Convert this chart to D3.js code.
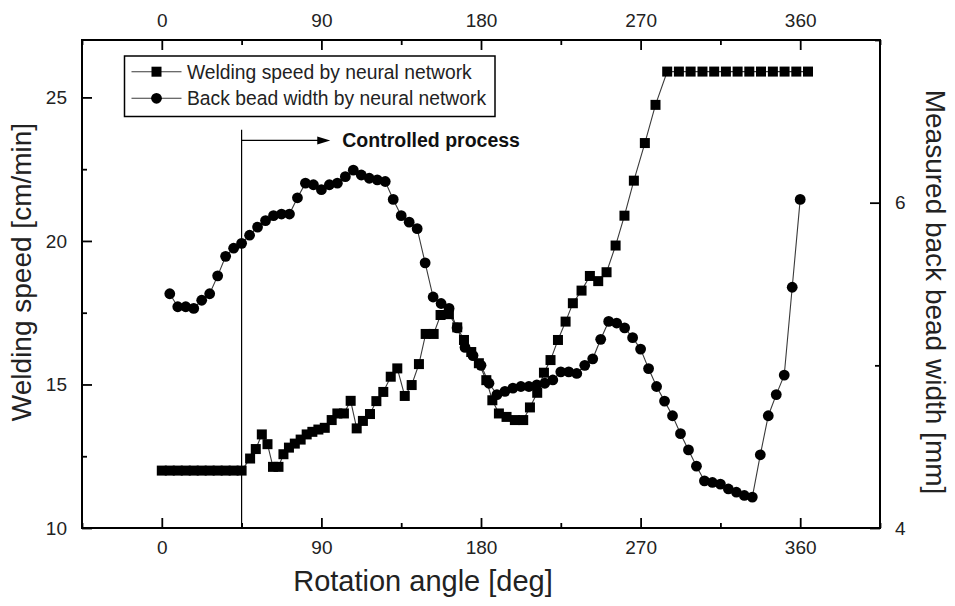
<!DOCTYPE html>
<html>
<head>
<meta charset="utf-8">
<script src="https://cdn.jsdelivr.net/npm/d3@7"></script>
<style>
  html, body { margin: 0; padding: 0; background: #fff; }
  svg { display: block; font-family: "Liberation Sans", Arial, sans-serif; }
</style>
</head>
<body>
<svg id="chart" width="955" height="606"></svg>
<script>
// Welding speed predicted by the neural network (left axis, cm/min)
const speedAngle = [0, 4.5, 9, 13.5, 18, 22.5, 27, 31.5, 36, 40.5, 45,
  49.8, 53.0, 56.4, 59.6, 62.7, 65.8, 68.6, 71.7, 75.0, 78.3, 81.7, 84.9, 88.3,
  91.9, 95.8, 99.0, 102.7, 106.5, 109.9, 113.4, 117.4, 121.0, 124.9, 129.1, 132.8,
  137.0, 140.9, 145.0, 148.8, 153.3, 157.2, 161.9, 166.6, 170.4, 174.5, 178.8,
  183.0, 186.4, 190.1, 194.4, 199.1, 203.8, 207.6, 211.7, 215.5, 219.2, 223.4,
  227.7, 231.8, 236.7, 241.4, 246.1, 250.8, 255.9, 260.9, 266.2, 272.4, 278.4,
  285, 291.6, 298.2, 304.9, 311.5, 318.1, 324.7, 331.3, 337.9, 344.6, 351.2, 357.8, 364.4];
const speedValue = [12, 12, 12, 12, 12, 12, 12, 12, 12, 12, 12,
  12.42, 12.75, 13.26, 12.92, 12.13, 12.13, 12.57, 12.80, 12.94, 13.08, 13.26, 13.35, 13.43,
  13.49, 13.76, 13.99, 13.99, 14.43, 13.47, 13.73, 13.97, 14.42, 14.74, 15.27, 15.56,
  14.60, 14.98, 15.71, 16.76, 16.76, 17.42, 17.45, 16.99, 16.55, 16.13, 15.74,
  15.15, 14.45, 13.99, 13.87, 13.76, 13.76, 14.20, 14.71, 15.41, 15.85, 16.55,
  17.19, 17.83, 18.27, 18.78, 18.60, 18.91, 19.84, 20.88, 22.10, 23.41, 24.74,
  25.9, 25.9, 25.9, 25.9, 25.9, 25.9, 25.9, 25.9, 25.9, 25.9, 25.9, 25.9, 25.9];

// Back bead width by the neural network (right axis, mm)
const widthAngle = [4.5, 9, 13.5, 18, 22.5, 27, 31.5, 36, 40.5, 45,
  49.5, 54, 58.5, 63, 67.5, 72, 76.5, 81, 85.5, 90,
  94.5, 99, 103.5, 108, 112.5, 117, 121.5, 126, 130.5, 135,
  139.5, 144, 148.5, 153, 157.5, 162, 166.5, 171, 175.5, 180,
  184.5, 189, 193.5, 198, 202.5, 207, 211.5, 216, 220.5, 225,
  229.5, 234, 238.5, 243, 247.5, 252, 256.5, 261, 265.5, 270,
  274.5, 279, 283.5, 288, 292.5, 297, 301.5, 306, 310.5, 315,
  319.5, 324, 328.5, 333, 337.5, 342, 346.5, 351, 355.5, 360];
const widthValue = [5.44, 5.36, 5.36, 5.35, 5.40, 5.44, 5.55, 5.67, 5.72, 5.75,
  5.80, 5.85, 5.89, 5.92, 5.93, 5.93, 6.03, 6.12, 6.11, 6.08,
  6.11, 6.12, 6.16, 6.20, 6.17, 6.15, 6.14, 6.13, 6.02, 5.92,
  5.88, 5.84, 5.63, 5.42, 5.38, 5.35, 5.23, 5.11, 5.06, 5.00,
  4.89, 4.82, 4.84, 4.86, 4.87, 4.87, 4.88, 4.89, 4.91, 4.96,
  4.96, 4.95, 5.00, 5.04, 5.16, 5.27, 5.26, 5.23, 5.17, 5.10,
  4.98, 4.87, 4.78, 4.69, 4.58, 4.48, 4.38, 4.29, 4.28, 4.27,
  4.24, 4.22, 4.20, 4.19, 4.45, 4.69, 4.82, 4.94, 5.48, 6.02];

const angleTicks = [0, 90, 180, 270, 360];
const angleMinor = [-45, 45, 135, 225, 315, 405];
const speedTicks = [10, 15, 20, 25];
const speedMinor = [12.5, 17.5, 22.5];
const widthTicks = [4, 6];
const widthMinor = [5, 7];

const legendLabels = ["Welding speed by neural network", "Back bead width by neural network"];
const annotationText = "Controlled process";
const controlStart = 45;   // deg, start of the controlled process
const controlArrowEnd = 95;

const M = { left: 82, right: 880, top: 40, bottom: 528 };

const svg = d3.select("#chart");
const x = d3.scaleLinear().domain([-45, 405]).range([M.left, M.right]);
const yL = d3.scaleLinear().domain([10, 27]).range([M.bottom, M.top]);
const yR = d3.scaleLinear().domain([4, 7]).range([M.bottom, M.top]);

const tickFont = 19;
const lineColor = "#3a3a3a";

// --- axes (ticks point inward) ---
function styleAxis(g) {
  g.select(".domain").remove();
  g.selectAll(".tick line").attr("stroke", "#000").attr("stroke-width", 1.8);
  g.selectAll(".tick text").attr("font-size", tickFont).attr("fill", "#222")
    .attr("font-family", '"Liberation Sans", Arial, sans-serif');
}

svg.append("g").attr("transform", `translate(0,${M.bottom})`)
  .call(d3.axisBottom(x).tickValues(angleTicks).tickSize(-10).tickPadding(13).tickFormat(d3.format("d")))
  .call(styleAxis);
svg.append("g").attr("transform", `translate(0,${M.bottom})`)
  .call(d3.axisBottom(x).tickValues(angleMinor).tickSize(-5).tickFormat(""))
  .call(styleAxis);
svg.append("g").attr("transform", `translate(0,${M.top})`)
  .call(d3.axisTop(x).tickValues(angleTicks).tickSize(-10).tickPadding(13).tickFormat(d3.format("d")))
  .call(styleAxis);
svg.append("g").attr("transform", `translate(0,${M.top})`)
  .call(d3.axisTop(x).tickValues(angleMinor).tickSize(-5).tickFormat(""))
  .call(styleAxis);
svg.append("g").attr("transform", `translate(${M.left},0)`)
  .call(d3.axisLeft(yL).tickValues(speedTicks).tickSize(-10).tickPadding(15).tickFormat(d3.format("d")))
  .call(styleAxis);
svg.append("g").attr("transform", `translate(${M.left},0)`)
  .call(d3.axisLeft(yL).tickValues(speedMinor).tickSize(-5).tickFormat(""))
  .call(styleAxis);
svg.append("g").attr("transform", `translate(${M.right},0)`)
  .call(d3.axisRight(yR).tickValues(widthTicks).tickSize(-10).tickPadding(15).tickFormat(d3.format("d")))
  .call(styleAxis);
svg.append("g").attr("transform", `translate(${M.right},0)`)
  .call(d3.axisRight(yR).tickValues(widthMinor).tickSize(-5).tickFormat(""))
  .call(styleAxis);

// frame
svg.append("rect")
  .attr("x", M.left).attr("y", M.top)
  .attr("width", M.right - M.left).attr("height", M.bottom - M.top)
  .attr("fill", "none").attr("stroke", "#000").attr("stroke-width", 2);

// axis titles
svg.append("text").attr("x", 423).attr("y", 591)
  .attr("text-anchor", "middle").attr("font-size", 29).attr("fill", "#222")
  .text("Rotation angle [deg]");
svg.append("text").attr("transform", `translate(31,272) rotate(-90)`)
  .attr("text-anchor", "middle").attr("font-size", 28).attr("fill", "#222")
  .text("Welding speed [cm/min]");
svg.append("text").attr("transform", `translate(926,292) rotate(90)`)
  .attr("text-anchor", "middle").attr("font-size", 28).attr("fill", "#222")
  .text("Measured back bead width [mm]");

// controlled process marker
svg.append("line")
  .attr("x1", x(controlStart)).attr("x2", x(controlStart))
  .attr("y1", yL(10)).attr("y2", yL(23.87))
  .attr("stroke", "#000").attr("stroke-width", 1.2);
const arrowY = yL(23.5);
svg.append("line")
  .attr("x1", x(controlStart)).attr("x2", x(controlArrowEnd) - 9)
  .attr("y1", arrowY).attr("y2", arrowY)
  .attr("stroke", "#000").attr("stroke-width", 1.2);
svg.append("path")
  .attr("d", `M${x(controlArrowEnd)},${arrowY} l-13,-4 l0,8 z`)
  .attr("fill", "#000");
svg.append("text").attr("x", x(controlArrowEnd) + 12).attr("y", arrowY + 6.5)
  .attr("font-size", 19.5).attr("font-weight", "bold").attr("fill", "#111")
  .text(annotationText);

// series
const speedData = speedAngle.map((a, i) => ({ a, v: speedValue[i] }));
const widthData = widthAngle.map((a, i) => ({ a, v: widthValue[i] }));

svg.append("path").datum(speedData)
  .attr("fill", "none").attr("stroke", lineColor).attr("stroke-width", 1.1)
  .attr("d", d3.line().x(d => x(d.a)).y(d => yL(d.v)));
svg.append("path").datum(widthData)
  .attr("fill", "none").attr("stroke", lineColor).attr("stroke-width", 1.1)
  .attr("d", d3.line().x(d => x(d.a)).y(d => yR(d.v)));

const sq = 10;
svg.append("g").selectAll("rect").data(speedData).join("rect")
  .attr("x", d => x(d.a) - sq / 2).attr("y", d => yL(d.v) - sq / 2)
  .attr("width", sq).attr("height", sq).attr("fill", "#000");
svg.append("g").selectAll("circle").data(widthData).join("circle")
  .attr("cx", d => x(d.a)).attr("cy", d => yR(d.v)).attr("r", 5.4).attr("fill", "#000");

// legend
const lg = svg.append("g");
lg.append("rect").attr("x", 124.5).attr("y", 56).attr("width", 370.5).attr("height", 60.5)
  .attr("fill", "#fff").attr("stroke", "#000").attr("stroke-width", 1.5);
legendLabels.forEach((label, i) => {
  const cy = 71.7 + i * 26.6;
  lg.append("line").attr("x1", 131.5).attr("x2", 181.5).attr("y1", cy).attr("y2", cy)
    .attr("stroke", lineColor).attr("stroke-width", 1.1);
  if (i === 0) {
    lg.append("rect").attr("x", 156.5 - sq / 2).attr("y", cy - sq / 2)
      .attr("width", sq).attr("height", sq).attr("fill", "#000");
  } else {
    lg.append("circle").attr("cx", 156.5).attr("cy", cy).attr("r", 5.4).attr("fill", "#000");
  }
  lg.append("text").attr("x", 187).attr("y", cy + 7).attr("font-size", 19.3).attr("fill", "#222")
    .text(label);
});
</script>
</body>
</html>
